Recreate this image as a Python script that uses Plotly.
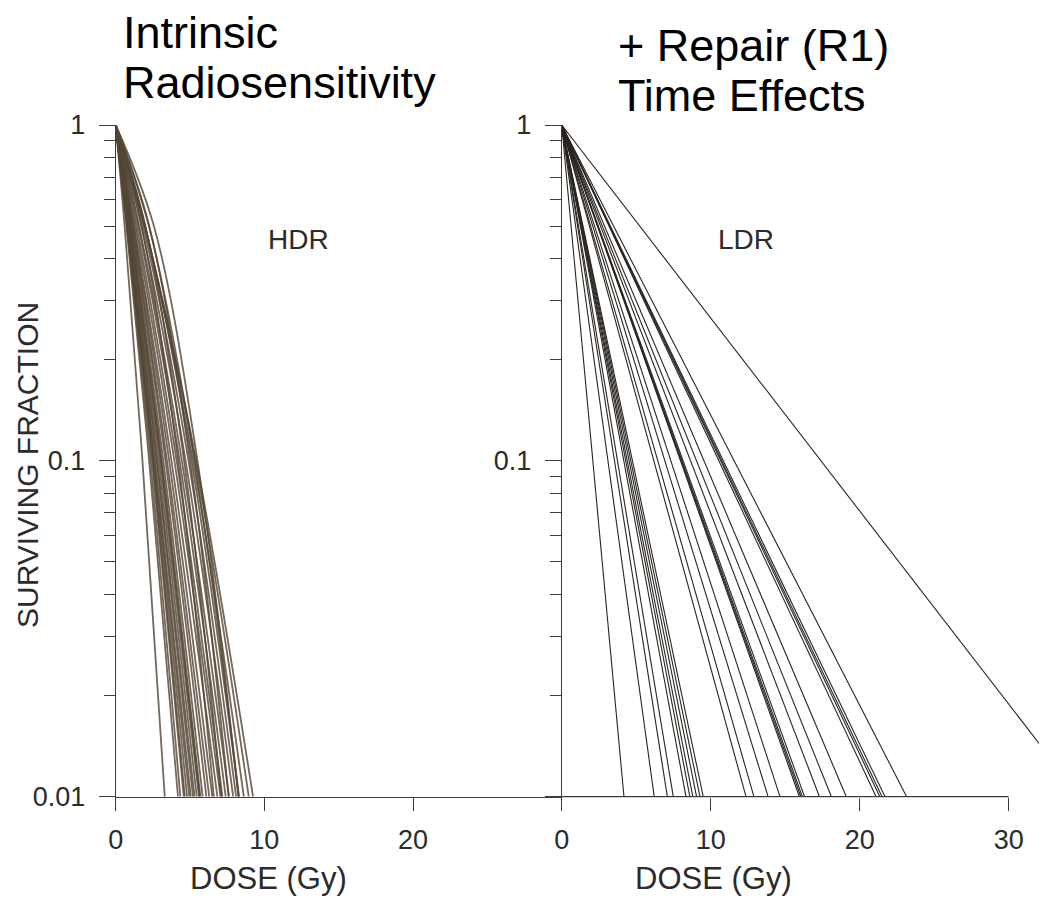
import math
import plotly.graph_objects as go

# ---------------- data ----------------
# HDR panel: dose (Gy) at which each survival curve reaches SF = 0.5, 0.1 and 0.01
hdr_d50 = [0.60, 0.72, 0.76, 0.78, 0.80, 0.81, 0.81, 0.83, 0.87, 0.88, 0.92, 0.96,
           0.98, 1.00, 1.04, 1.10, 1.13, 1.19, 1.23, 1.32, 1.41, 1.75, 1.52, 1.58,
           2.00, 1.72, 1.85, 2.26, 1.98, 2.23, 2.57, 1.95, 1.97, 1.94]
hdr_d10 = [1.80, 2.25, 2.35, 2.45, 2.50, 2.55, 2.60, 2.65, 2.75, 2.80, 2.90, 3.00,
           3.05, 3.10, 3.20, 3.35, 3.45, 3.60, 3.75, 3.95, 4.10, 4.20, 4.30, 4.45,
           4.60, 4.70, 4.90, 5.00, 5.10, 5.30, 5.50, 5.20, 5.35, 5.42]
hdr_d100 = [3.30, 4.19, 4.35, 4.58, 4.65, 4.80, 4.95, 5.05, 5.20, 5.30, 5.45, 5.60,
            5.65, 5.70, 5.85, 6.10, 6.29, 6.50, 6.84, 7.05, 7.18, 6.60, 7.40, 7.62,
            7.10, 7.90, 8.10, 7.60, 8.29, 8.29, 8.25, 8.62, 8.95, 9.24]
hdr_sf = [1, 0.5, 0.1, 0.01]
# LDR panel: dose (Gy) at which each (mono-exponential) line reaches SF = 0.01
ldr_d100 = [4.18, 6.21, 7.09, 7.49, 8.34, 8.60, 8.80, 9.05, 9.28, 9.50,
            12.37, 12.90, 13.85, 14.65, 15.95, 16.05, 16.15, 16.30, 17.30,
            18.10, 19.10, 21.10, 21.35, 21.50, 21.70, 23.15, 34.80]
ldr_sf = [1, 0.01]

x_ticks_hdr = [0, 10, 20]
x_ticks_ldr = [0, 10, 20, 30]
y_ticks = [0.01, 0.1, 1]
y_minor = [0.02, 0.03, 0.04, 0.05, 0.06, 0.07, 0.08, 0.09,
           0.2, 0.3, 0.4, 0.5, 0.6, 0.7, 0.8, 0.9]

# ---------------- figure ----------------
OFF = 8                      # page body margin of the html page
W, H = 1047 - OFF, 909 - OFF
def px(x):
    return (x - OFF) / W
def py(y):
    return 1 - (y - OFF) / H

xdom_l = [px(115.7), px(561.7)]
xdom_r = [px(561.7), 1.0]
ydom = [py(796.7), py(125)]

hdr_color = "rgba(84,71,54,0.82)"
ldr_color = "#2a2520"
axis_color = "#3c3c3c"
TICKFONT = dict(family="Liberation Sans, Arial, sans-serif", size=27, color="#2b2b2b")

fig = go.Figure()

for d5, d1, d2 in zip(hdr_d50, hdr_d10, hdr_d100):
    fig.add_trace(go.Scatter(x=[0, d5, d1, d2], y=hdr_sf, mode="lines",
                             line=dict(color=hdr_color, width=1.8, shape="spline", smoothing=1.0),
                             xaxis="x", yaxis="y", showlegend=False, hoverinfo="skip"))

for d in ldr_d100:
    fig.add_trace(go.Scatter(x=[0, d], y=ldr_sf, mode="lines",
                             line=dict(color=ldr_color, width=1.1),
                             xaxis="x2", yaxis="y2", showlegend=False, hoverinfo="skip"))

common_x = dict(ticks="outside", ticklen=13, tickwidth=1.2, tickcolor=axis_color,
                showgrid=False, zeroline=False, tickfont=TICKFONT, ticklabelstandoff=6)
common_y = dict(type="log", range=[-2, 0], tickvals=y_ticks, ticks="outside",
                ticklen=16, tickwidth=1.2, tickcolor=axis_color, showgrid=False,
                zeroline=False, showline=True, linecolor=axis_color, linewidth=1.2,
                tickfont=TICKFONT, ticklabelstandoff=8,
                minor=dict(tickvals=y_minor, ticks="outside", ticklen=11,
                           tickwidth=1.1, tickcolor=axis_color, showgrid=False))

fig.update_layout(
    width=W, height=H, autosize=False,
    margin=dict(l=0, r=0, t=0, b=0, autoexpand=False),
    paper_bgcolor="white", plot_bgcolor="white",
    xaxis=dict(domain=xdom_l, range=[0, 30.0], tickvals=x_ticks_hdr,
               showline=True, linecolor=axis_color, linewidth=1.2, anchor="y", **common_x),
    yaxis=dict(domain=ydom, anchor="x", ticktext=["0.01", "0.1", "1"], **common_y),
    xaxis2=dict(domain=xdom_r, range=[0, 32.57], tickvals=x_ticks_ldr,
                showline=False, anchor="y2", **common_x),
    yaxis2=dict(domain=ydom, anchor="x2", ticktext=["", "0.1", "1"], **common_y),
)

# x axis line of the LDR panel (stops at 30 Gy)
fig.add_shape(type="line", xref="x2", yref="paper", x0=0, x1=30,
              y0=ydom[0], y1=ydom[0], line=dict(color=axis_color, width=1.2))

LABFONT = dict(family="Liberation Sans, Arial, sans-serif", size=28, color="#2b2b2b")
fig.add_annotation(text="HDR", xref="x", yref="y", x=12.3, y=math.log10(0.455),
                   showarrow=False, font=LABFONT)
fig.add_annotation(text="LDR", xref="x2", yref="y2", x=12.4, y=math.log10(0.455),
                   showarrow=False, font=LABFONT)

AXFONT = dict(family="Liberation Sans, Arial, sans-serif", size=31, color="#2b2b2b")
fig.add_annotation(text="DOSE (Gy)", xref="paper", yref="paper", x=px(268), y=py(878),
                   showarrow=False, font=AXFONT, xanchor="center", yanchor="middle")
fig.add_annotation(text="DOSE (Gy)", xref="paper", yref="paper", x=px(713), y=py(878),
                   showarrow=False, font=AXFONT, xanchor="center", yanchor="middle")
fig.add_annotation(text="SURVIVING FRACTION", xref="paper", yref="paper", x=px(27), y=py(465),
                   showarrow=False, font=dict(AXFONT, size=30), textangle=-90,
                   xanchor="center", yanchor="middle")

TFONT = dict(family="Liberation Sans, Arial, sans-serif", size=45, color="black")
for txt, x, y in [("Intrinsic", 121, 33), ("Radiosensitivity", 121, 82),
                  ("+ Repair (R1)", 616, 45), ("Time Effects", 616, 95)]:
    fig.add_annotation(text=txt, xref="paper", yref="paper", x=px(x), y=py(y),
                       showarrow=False, font=TFONT, xanchor="left", yanchor="middle")

fig.write_html("out.html")
